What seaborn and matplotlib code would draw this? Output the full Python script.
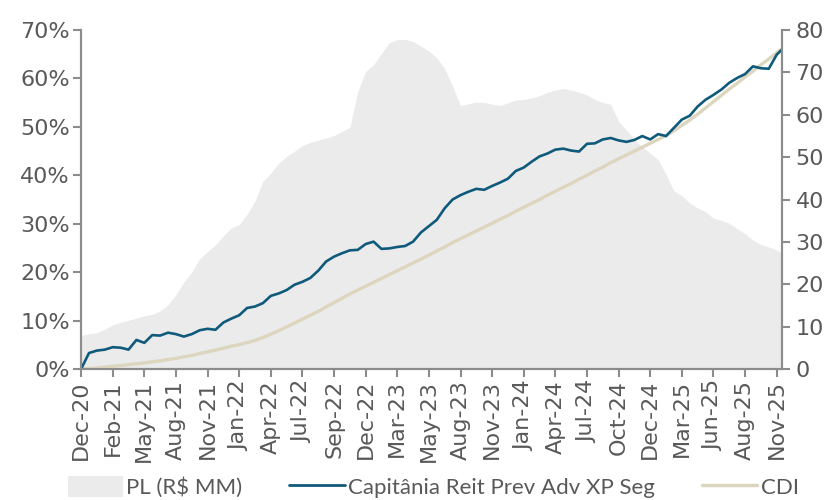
import numpy as np
import pandas as pd
import seaborn as sns
import matplotlib.pyplot as plt
from matplotlib.patches import Patch
from matplotlib.lines import Line2D

sns.set_style("ticks")
plt.rcParams['font.family'] = ['DejaVu Sans']

# tick labels (one every 4 samples)
tick_labels = ['Dec-20', 'Feb-21', 'May-21', 'Aug-21', 'Nov-21', 'Jan-22', 'Apr-22', 'Jul-22',
               'Sep-22', 'Dec-22', 'Mar-23', 'May-23', 'Aug-23', 'Nov-23', 'Jan-24', 'Apr-24',
               'Jul-24', 'Oct-24', 'Dec-24', 'Mar-25', 'Jun-25', 'Aug-25', 'Nov-25']

# sample position (4 samples per tick step), last one is the final day
pos = list(range(89)) + [88.63]

# fund cumulative return (%)
fundo = [0.0, 3.3, 3.8, 4.0, 4.5, 4.4, 4.0, 6.0, 5.4, 7.0,
         6.9, 7.5, 7.2, 6.7, 7.2, 8.0, 8.3, 8.1, 9.6, 10.4,
         11.1, 12.6, 12.9, 13.6, 15.1, 15.6, 16.3, 17.4, 18.0, 18.8,
         20.3, 22.2, 23.2, 23.9, 24.5, 24.6, 25.8, 26.3, 24.8, 24.9,
         25.2, 25.4, 26.3, 28.2, 29.5, 30.8, 33.2, 35.0, 35.9, 36.6,
         37.2, 37.0, 37.8, 38.5, 39.3, 40.9, 41.6, 42.8, 43.9, 44.5,
         45.3, 45.5, 45.1, 44.9, 46.5, 46.6, 47.4, 47.7, 47.2, 46.9,
         47.3, 48.1, 47.4, 48.5, 48.1, 49.8, 51.5, 52.3, 54.2, 55.6,
         56.6, 57.7, 59.1, 60.1, 60.9, 62.5, 62.1, 62.0, 64.9, 65.9]

# CDI cumulative (%)
cdi = [0.0, 0.1, 0.2, 0.4, 0.55, 0.7, 0.9, 1.1, 1.25, 1.5,
       1.7, 1.95, 2.2, 2.5, 2.8, 3.2, 3.55, 3.9, 4.3, 4.7,
       5.05, 5.45, 5.9, 6.5, 7.2, 7.9, 8.7, 9.5, 10.3, 11.1,
       11.9, 12.8, 13.7, 14.6, 15.5, 16.3, 17.1, 17.9, 18.7, 19.5,
       20.3, 21.1, 21.9, 22.7, 23.5, 24.4, 25.2, 26.1, 26.9, 27.7,
       28.5, 29.3, 30.1, 30.9, 31.7, 32.6, 33.4, 34.2, 35.0, 35.9,
       36.7, 37.5, 38.3, 39.2, 40.0, 40.9, 41.7, 42.6, 43.4, 44.2,
       45.0, 45.8, 46.6, 47.4, 48.2, 49.2, 50.3, 51.4, 52.6, 53.9,
       55.2, 56.5, 57.8, 59.0, 60.3, 61.5, 62.8, 64.0, 65.3, 66.1]

# PL (R$ MM), right axis
pl = [8.0, 8.3, 8.6, 9.4, 10.4, 11.0, 11.5, 12.0, 12.6, 12.9,
      13.7, 15.2, 17.5, 20.5, 22.9, 26.0, 27.7, 29.3, 31.4, 33.3,
      34.1, 36.5, 39.6, 44.3, 46.2, 48.6, 50.2, 51.4, 52.7, 53.5,
      54.0, 54.5, 55.1, 56.1, 57.0, 65.5, 70.2, 71.8, 74.5, 77.0,
      77.7, 77.8, 77.3, 76.2, 75.0, 73.4, 70.9, 66.7, 62.2, 62.6,
      63.0, 62.9, 62.5, 62.2, 62.8, 63.5, 63.6, 64.0, 64.5, 65.3,
      65.8, 66.2, 65.8, 65.3, 64.7, 63.6, 62.9, 62.5, 58.4, 56.4,
      54.2, 52.4, 50.9, 49.4, 45.9, 42.0, 40.9, 39.2, 38.0, 37.1,
      35.6, 35.1, 34.4, 33.1, 31.9, 30.4, 29.4, 28.8, 28.1, 27.3]

df = pd.DataFrame({'pos': pos, 'fundo': fundo, 'cdi': cdi, 'pl': pl})

c_blue = '#0f5a7b'
c_beige = '#ddd6bf'
c_area = '#ebebeb'
c_axis = '#8c8c8c'
c_text = '#595959'

fig, ax = plt.subplots(figsize=(8.36, 5), dpi=100)
fig.subplots_adjust(left=0.097, right=0.935, top=0.94, bottom=0.262)
ax2 = ax.twinx()

# area on the right axis, behind the lines
ax2.fill_between(df['pos'], 0, df['pl'], color=c_area, lw=0)
ax.set_zorder(ax2.get_zorder() + 1)
ax.patch.set_visible(False)

sns.lineplot(data=df, x='pos', y='cdi', ax=ax, color=c_beige, lw=2.4)
sns.lineplot(data=df, x='pos', y='fundo', ax=ax, color=c_blue, lw=1.9)

ax.set_xlim(0, 88.63)
ax.set_ylim(0, 70)
ax2.set_ylim(0, 80)
ax.set_yticks(range(0, 71, 10))
ax.set_yticklabels([f'{v}%' for v in range(0, 71, 10)])
ax2.set_yticks(range(0, 81, 10))
ax.set_xticks(range(0, 89, 4))
ax.set_xticklabels(tick_labels, rotation=90)
ax.set_xlabel('')
ax.set_ylabel('')

for a in (ax, ax2):
    for s in a.spines.values():
        s.set_color(c_axis)
        s.set_linewidth(1.5)
    a.spines['top'].set_visible(False)
    a.tick_params(axis='both', colors=c_axis, labelcolor=c_text, labelsize=16,
                  length=6, width=1.5, direction='out', pad=2)
ax2.tick_params(axis='y', pad=4)

handles = [Patch(facecolor=c_area, edgecolor='none'),
           Line2D([], [], color=c_blue, lw=2),
           Line2D([], [], color=c_beige, lw=2.5)]
fig.legend(handles, ['PL (R$ MM)', 'Capitânia Reit Prev Adv XP Seg', 'CDI'],
           loc='upper center', bbox_to_anchor=(0.518, 0.066), ncol=3, frameon=False,
           prop={'family': 'Lato', 'size': 16}, labelcolor=c_text,
           handlelength=2.5, handleheight=1.1, handletextpad=0.15, columnspacing=2.1,
           borderaxespad=0)

fig.savefig('out.png', dpi=100)
